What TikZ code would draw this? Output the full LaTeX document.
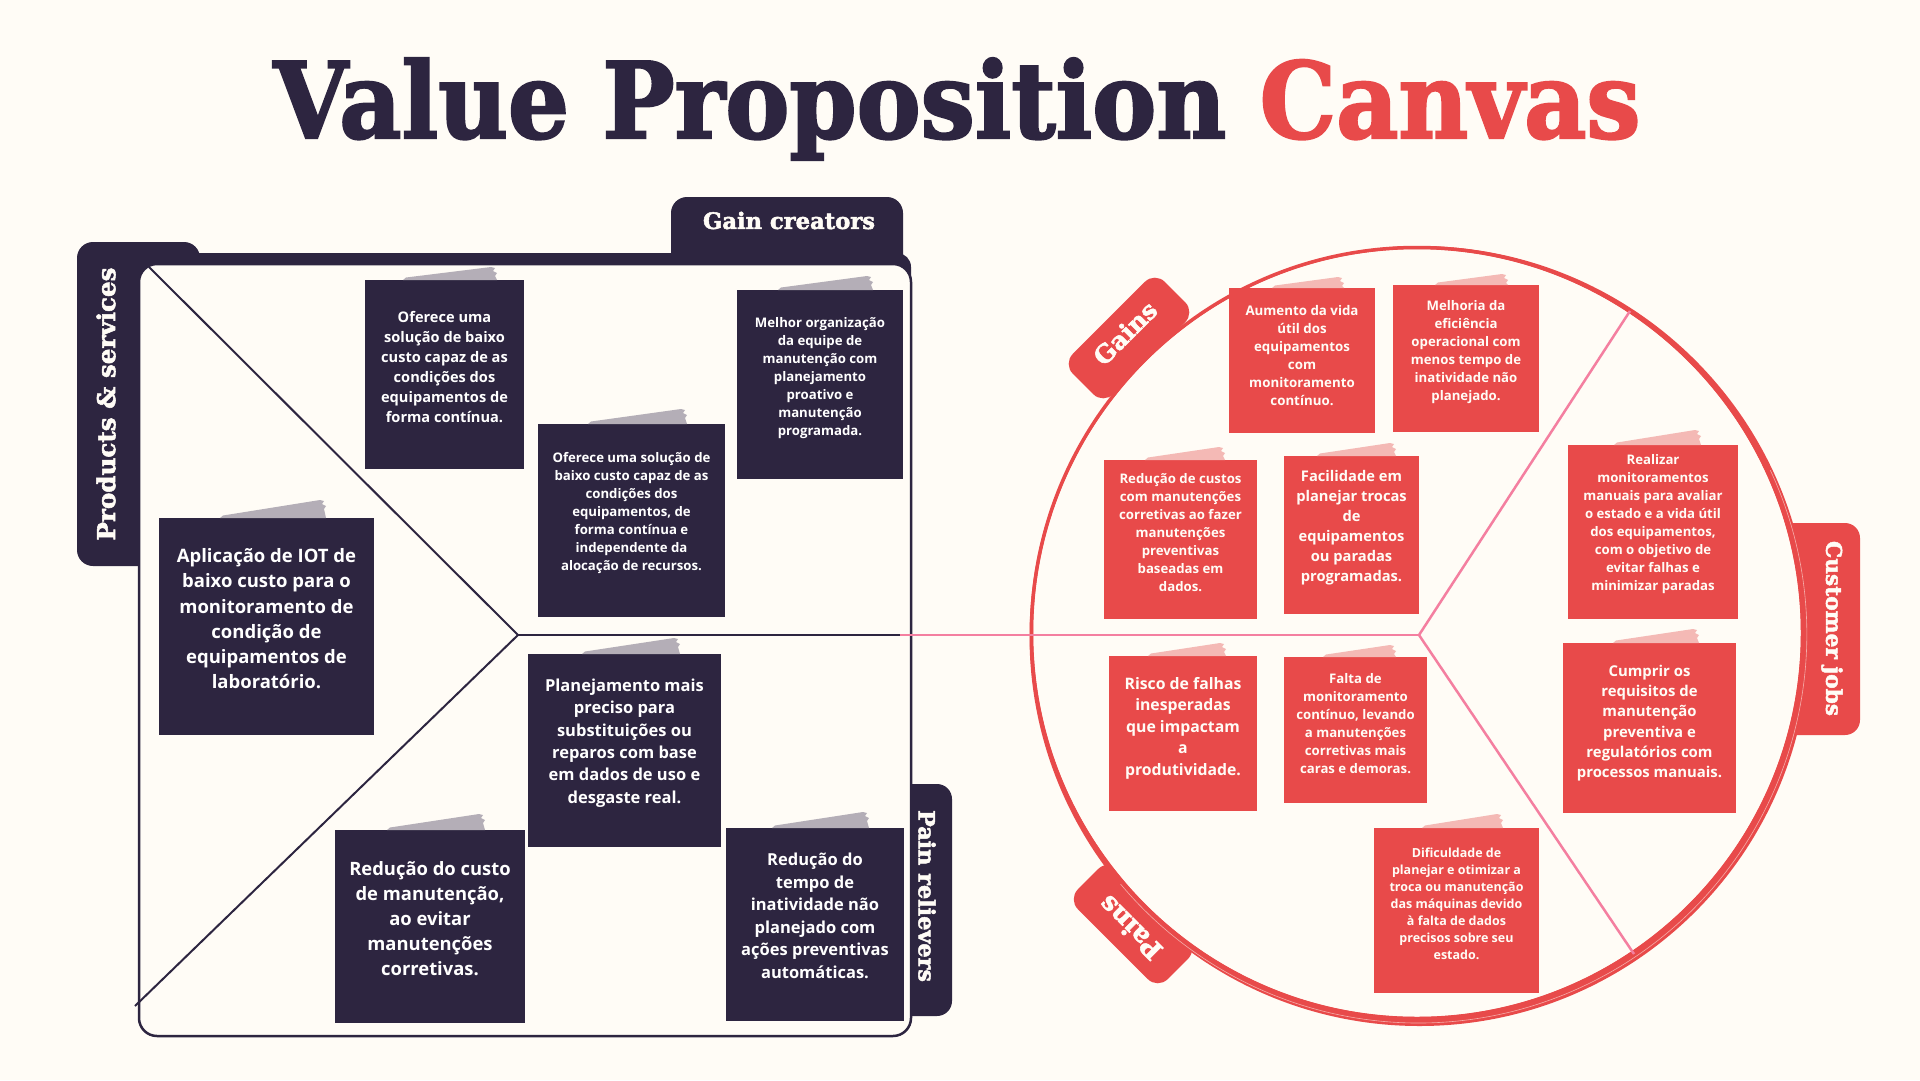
\documentclass[tikz,border=0pt]{standalone}
\usepackage{fontspec}
\usetikzlibrary{calc}
\newfontfamily\headfont{DejaVu Serif}[UprightFeatures={FakeBold=2.2}, BoldFeatures={FakeBold=2.2}]
\newfontfamily\notefont{Open Sans}
\definecolor{bg}{HTML}{FFFCF6}
\definecolor{ink}{HTML}{2D2540}
\definecolor{coral}{HTML}{E84A4A}
\definecolor{tapegrey}{HTML}{B4AEB7}
\definecolor{tapepink}{HTML}{F4B9B5}
\definecolor{pinkline}{HTML}{F47FA0}
\newcommand{\fs}[2]{\fontsize{#1pt}{#2pt}\selectfont}
\newcommand{\tape}[5]{\fill[#5] (#1,#3) -- (#1+3,#3-2.5) -- (#2-5,#3-#4) -- (#2-1,#3-#4+1) -- (#2-3,#3-#4+4) -- (#2+1,#3-#4+6) -- (#2-1,#3-#4+9) -- (#2+1,#3) -- cycle;}
\tikzset{
  box/.style n args={2}{minimum width=#1pt, minimum height=#2pt, inner sep=0pt, draw=none, anchor=north west},
  dnote/.style={fill=ink},
  rnote/.style={fill=coral},
  ntext/.style n args={2}{text=white, align=center, inner sep=0pt, font=\notefont\bfseries\fs{#1}{#2}},
  rtext/.style n args={2}{text=bg, align=center, inner sep=0pt, font=\notefont\bfseries\fs{#1}{#2}},
  tablabel/.style={text=bg, inner sep=0pt, font=\headfont\bfseries},
  redtab/.style={fill=coral, rounded corners=14pt, inner sep=0pt},
  frameline/.style={ink, line width=2pt},
  segline/.style={pinkline, line width=2.5pt}
}
\begin{document}
\begin{tikzpicture}[x=1pt,y=-1pt]
\useasboundingbox (0,0) rectangle (1920,1080);
\fill[bg] (0,0) rectangle (1920,1080);

% Title
\node[anchor=base, inner sep=0pt] (title) at (957,138)
  {\resizebox{1367pt}{80pt}{\headfont\bfseries\textcolor{ink}{Value Proposition} \textcolor{coral}{Canvas}}};

% ---------- left canvas ----------
\fill[ink, rounded corners=16pt] (77,242) rectangle (200,566);
\fill[ink, rounded corners=16pt] (671,197) rectangle (903,300);
\fill[ink, rounded corners=14pt] (138,253) rectangle (911,700);
\fill[ink, rounded corners=15pt] (880,784) rectangle (952,1016);
\draw[ink, line width=2.5pt, fill=bg, rounded corners=18pt] (139,264) rectangle (911,1036);

\coordinate (tl) at (149,267);
\coordinate (vx) at (518,635);
\coordinate (bl) at (135,1006);
\coordinate (fr) at (900,635);
\draw[frameline] (tl) -- (vx) -- (bl);
\draw[frameline] (vx) -- (fr);

\node[tablabel, rotate=90] (pslabel) at (106,404) {\resizebox{273pt}{!}{Products \& services}};
\node[tablabel] (gclabel) at (789,220.5) {\resizebox{172pt}{!}{Gain creators}};
\node[tablabel, rotate=-90] (prlabel) at (927,896) {\resizebox{172pt}{!}{Pain relievers}};

% dark notes
\node[box={159}{189}, dnote] (d1) at (365,280) {};
\tape{403}{496}{280}{13}{tapegrey}
\node[ntext={14.6}{19.9}] (d1t) at (444.5,367) {Oferece uma\\solução de baixo\\custo capaz de as\\condições dos\\equipamentos de\\forma contínua.};

\node[box={166}{189}, dnote] (d2) at (737,290) {};
\tape{778}{872}{290}{14}{tapegrey}
\node[ntext={13.2}{18}] (d2t) at (820,377.7) {Melhor organização\\da equipe de\\manutenção com\\planejamento\\proativo e\\manutenção\\programada.};

\node[box={187}{193}, dnote] (d3) at (538,424) {};
\tape{588}{686}{424}{15}{tapegrey}
\node[ntext={13.2}{18}] (d3t) at (631.5,513.5) {Oferece uma solução de\\baixo custo capaz de as\\condições dos\\equipamentos, de\\forma contínua e\\independente da\\alocação de recursos.};

\node[box={215}{217}, dnote] (d4) at (159,518) {};
\tape{220}{325}{518}{18}{tapegrey}
\node[ntext={18.5}{25.2}] (d4t) at (266.5,618.7) {Aplicação de IOT de\\baixo custo para o\\monitoramento de\\condição de\\equipamentos de\\laboratório.};

\node[box={193}{193}, dnote] (d5) at (528,654) {};
\tape{582}{679}{654}{16}{tapegrey}
\node[ntext={16.5}{22.4}] (d5t) at (624.5,743) {Planejamento mais\\preciso para\\substituições ou\\reparos com base\\em dados de uso e\\desgaste real.};

\node[box={190}{193}, dnote] (d6) at (335,830) {};
\tape{387}{484}{830}{16}{tapegrey}
\node[ntext={18.4}{25}] (d6t) at (430,919) {Redução do custo\\de manutenção,\\ao evitar\\manutenções\\corretivas.};

\node[box={178}{193}, dnote] (d7) at (726,828) {};
\tape{772}{868}{828}{16}{tapegrey}
\node[ntext={16.5}{22.5}] (d7t) at (815,916) {Redução do\\tempo de\\inatividade não\\planejado com\\ações preventivas\\automáticas.};

% ---------- right circle ----------
\node[redtab, minimum width=130pt, minimum height=57pt, rotate=45] (gainstab) at (1129,338) {};
\node[redtab, minimum width=127pt, minimum height=57pt, rotate=-45] (painstab) at (1133,924) {};
\fill[coral, rounded corners=15pt] (1760,523) rectangle (1860,735);

\coordinate (C) at (1417,633);
\fill[bg] (C) circle[radius=385];
\fill[coral, even odd rule] ($(C)+(2.5,3)$) circle[radius=390] (C) circle[radius=384];
\draw[coral, line width=3.5pt] (C) circle[radius=385.5];
\draw[bg!55!coral, line width=0.6pt] ($(C)+(1.25,1.5)+(-25:388.5)$) arc[start angle=-25, end angle=140, radius=388.5];

\node[tablabel, rotate=45] (gainslabel) at (1125,333) {\resizebox{78pt}{!}{Gains}};
\node[tablabel, rotate=135] (painslabel) at (1130,928) {\resizebox{78pt}{!}{Pains}};
\node[tablabel, rotate=-90] (cjlabel) at (1832,628.5) {\resizebox{175pt}{!}{Customer jobs}};

\coordinate (hub) at (1419,635);
\coordinate (jt) at (1630,311);
\coordinate (jb) at (1634,954);
\draw[segline] (fr) -- (hub);
\draw[segline] (hub) -- (jt);
\draw[segline] (hub) -- (jb);

% red notes
\node[box={146}{145}, rnote] (r1) at (1229,288) {};
\tape{1272}{1343}{288}{11}{tapepink}
\node[rtext={13.3}{18.1}] (r1t) at (1302,355.4) {Aumento da vida\\útil dos\\equipamentos\\com\\monitoramento\\contínuo.};

\node[box={146}{147}, rnote] (r2) at (1393,285) {};
\tape{1435}{1507}{285}{11}{tapepink}
\node[rtext={13.2}{18}] (r2t) at (1466,352) {Melhoria da\\eficiência\\operacional com\\menos tempo de\\inatividade não\\planejado.};

\node[box={153}{159}, rnote] (r3) at (1104,460) {};
\tape{1145}{1224}{460}{13}{tapepink}
\node[rtext={13.2}{18}] (r3t) at (1180.5,533) {Redução de custos\\com manutenções\\corretivas ao fazer\\manutenções\\preventivas\\baseadas em\\dados.};

\node[box={135}{158}, rnote] (r4) at (1284,456) {};
\tape{1317}{1395}{456}{13}{tapepink}
\node[rtext={14.7}{20}] (r4t) at (1351.5,528) {Facilidade em\\planejar trocas\\de\\equipamentos\\ou paradas\\programadas.};

\node[box={148}{155}, rnote] (r5) at (1109,656) {};
\tape{1148}{1225}{656}{13}{tapepink}
\node[rtext={15.8}{21.5}] (r5t) at (1183,728) {Risco de falhas\\inesperadas\\que impactam\\a\\produtividade.};

\node[box={143}{146}, rnote] (r6) at (1284,657) {};
\tape{1323}{1395}{657}{12}{tapepink}
\node[rtext={13.2}{18}] (r6t) at (1355.5,724) {Falta de\\monitoramento\\contínuo, levando\\a manutenções\\corretivas mais\\caras e demoras.};

\node[box={165}{165}, rnote] (r7) at (1374,828) {};
\tape{1422}{1502}{828}{14}{tapepink}
\node[rtext={12.5}{17}] (r7t) at (1456.5,904) {Dificuldade de\\planejar e otimizar a\\troca ou manutenção\\das máquinas devido\\à falta de dados\\precisos sobre seu\\estado.};

\node[box={170}{174}, rnote] (r8) at (1568,445) {};
\tape{1614}{1700}{445}{15}{tapepink}
\node[rtext={13.2}{18}] (r8t) at (1653,524) {Realizar\\monitoramentos\\manuais para avaliar\\o estado e a vida útil\\dos equipamentos,\\com o objetivo de\\evitar falhas e\\minimizar paradas};

\node[box={173}{170}, rnote] (r9) at (1563,643) {};
\tape{1613}{1698}{643}{14}{tapepink}
\node[rtext={14.9}{20.3}] (r9t) at (1649.5,723) {Cumprir os\\requisitos de\\manutenção\\preventiva e\\regulatórios com\\processos manuais.};
\end{tikzpicture}
\end{document}
